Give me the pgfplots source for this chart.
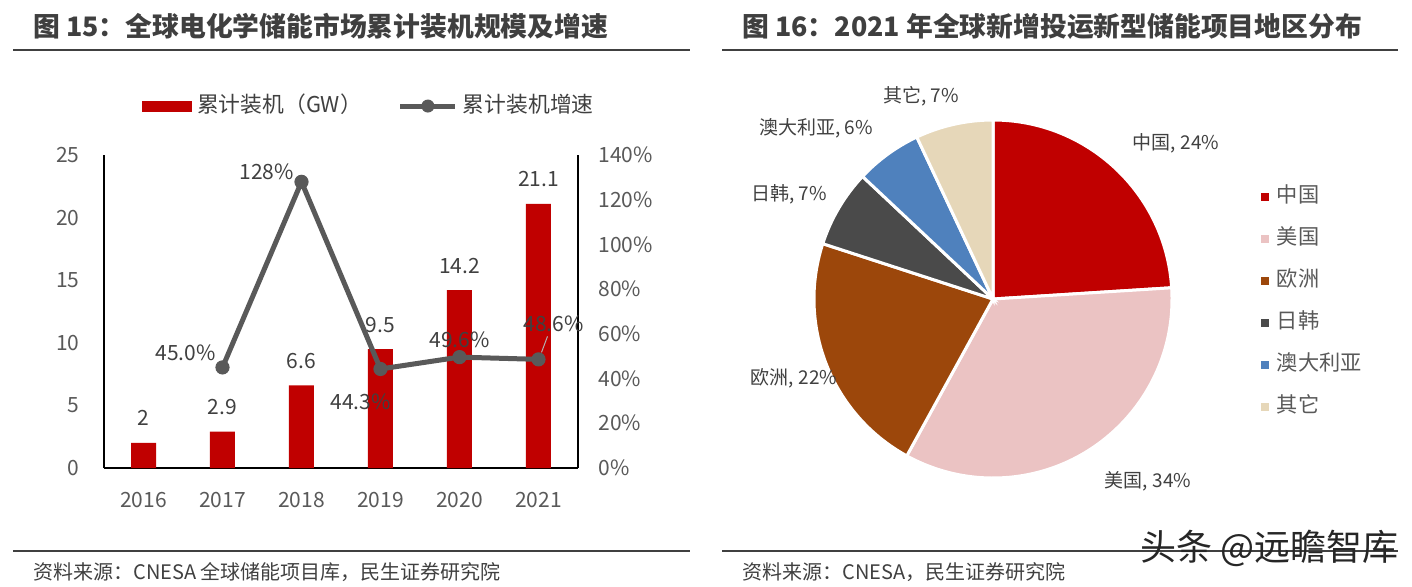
\documentclass[border=0pt]{standalone}
\usepackage{fontspec}
\setmainfont{Noto Sans CJK SC}
\usepackage{pgfplots}
\pgfplotsset{compat=1.18}
\definecolor{cRed}{HTML}{C00000}
\definecolor{cLine}{HTML}{595959}
\definecolor{cTick}{HTML}{595959}
\definecolor{cLab}{HTML}{404040}
\definecolor{cTitle}{HTML}{3F3F3F}
\definecolor{cRule}{HTML}{404040}
\definecolor{cChina}{HTML}{C00000}
\definecolor{cUS}{HTML}{EBC3C3}
\definecolor{cEU}{HTML}{9C470B}
\definecolor{cJK}{HTML}{4A4A4A}
\definecolor{cAU}{HTML}{4F81BD}
\definecolor{cOT}{HTML}{E6D7B9}
\newcommand\fs[1]{\fontsize{#1}{#1}\selectfont}
% pie slice: start angle, percent, colour
\newcommand\slice[3]{\fill[#3, draw=white, line width=1.5pt] (axis cs:0,0) -- ++(#1:89.5pt) arc[start angle=#1, delta angle={-3.6*#2}, radius=89.5pt] -- cycle;}
\begin{document}
\begin{tikzpicture}
\path[use as bounding box] (0pt,0pt) rectangle (706pt,-293pt);
% titles and rules
\node[anchor=base west, inner sep=0pt, font=\bfseries\fs{13.4}, text=cTitle] at (16.5pt,-18pt) {图 15：全球电化学储能市场累计装机规模及增速};
\node[anchor=base west, inner sep=0pt, font=\bfseries\fs{13.4}, text=cTitle] at (371pt,-18pt) {图 16：2021 年全球新增投运新型储能项目地区分布};
\draw[cRule, line width=1.4pt] (6.5pt,-25pt) -- (345pt,-25pt);
\draw[cRule, line width=1.4pt] (361pt,-25pt) -- (699pt,-25pt);
\draw[cRule, line width=1.4pt] (6.5pt,-275.5pt) -- (345pt,-275.5pt);
\draw[cRule, line width=1.4pt] (361pt,-275.5pt) -- (699pt,-275.5pt);
\node[anchor=base west, inner sep=0pt, font=\fs{10}, text=cLab] at (16.5pt,-289.5pt) {资料来源：CNESA 全球储能项目库，民生证券研究院};
\node[anchor=base west, inner sep=0pt, font=\fs{10}, text=cLab] at (371pt,-289.5pt) {资料来源：CNESA，民生证券研究院};
% watermark
\node[anchor=west, inner sep=0pt, font=\fs{18}, text=black!85] at (570pt,-274pt) {头条 @远瞻智库};

% ---------- bar axis ----------
\begin{axis}[
  at={(52pt,-234pt)}, anchor=south west, scale only axis, width=237pt, height=156.5pt,
  xmin=-0.5, xmax=5.5, ymin=0, ymax=25,
  xtick={0,1,2,3,4,5}, xticklabels={2016,2017,2018,2019,2020,2021},
  ytick={0,5,10,15,20,25}, yticklabels={0,5,10,15,20,25},
  axis x line*=bottom, axis y line*=left,
  axis line style={black, line width=0.6pt},
  major tick length=0pt,
  tick label style={font=\fs{10.5}, text=cTick, inner sep=0pt},
  xticklabel style={yshift=-11.75pt},
  yticklabel style={xshift=-12pt},
  /pgf/number format/assume math mode=true,
  clip=false,
  legend style={at={(0.0802,1.1565)}, anchor=west, draw=none, fill=none, inner sep=0pt, outer sep=0pt,
    font=\fs{10.9}, text=cLab, nodes={inner sep=0pt, text height=8pt, text depth=2pt},
    /tikz/every odd column/.append style={column sep=2.5pt},
    /tikz/every even column/.append style={column sep=18pt}},
  legend columns=2,
]
\addplot[ybar, bar width=12.5pt, fill=cRed, draw=none,
  nodes near coords,
  every node near coord/.append style={font=\fs{10.5}, text=cLab, anchor=base, yshift=8.5pt},
  legend image code/.code={\fill[cRed] (0pt,-2.75pt) rectangle (25pt,2.75pt);}]
  coordinates {(0,2) (1,2.9) (2,6.6) (3,9.5) (4,14.2) (5,21.1)};
\addlegendentry{累计装机（GW）}
\addlegendimage{legend image code/.code={\draw[cLine, line width=2.5pt, mark=*, mark size=3pt, mark options={fill=cLine, line width=0.5pt}, mark repeat=2, mark phase=2] plot coordinates {(0pt,0pt) (13.75pt,0pt) (27.5pt,0pt)};}}
\addlegendentry{累计装机增速}
\end{axis}

% ---------- growth axis ----------
\begin{axis}[
  at={(52pt,-234pt)}, anchor=south west, scale only axis, width=237pt, height=156.5pt,
  xmin=-0.5, xmax=5.5, ymin=0, ymax=140,
  axis x line=none, axis y line*=right,
  ytick={0,20,40,60,80,100,120,140},
  yticklabels={0\%,20\%,40\%,60\%,80\%,100\%,120\%,140\%},
  axis line style={black, line width=0.6pt},
  major tick length=0pt,
  tick label style={font=\fs{10.5}, text=cTick, inner sep=0pt},
  yticklabel style={xshift=10pt},
  clip=false,
]
\addplot[cLine, line width=2.5pt, mark=*, mark size=3.3pt, mark options={solid, fill=cLine, line width=0.5pt}]
  coordinates {(1,45.0) (2,128) (3,44.3) (4,49.6) (5,48.6)};
\draw[black!30, line width=0.5pt] ([xshift=1.5pt,yshift=3.5pt]axis cs:5,48.6) -- ([xshift=4.5pt,yshift=11.5pt]axis cs:5,48.6);
\node[font=\fs{10.5}, text=cLab, inner sep=0pt, xshift=-18.5pt, yshift=7.5pt] at (axis cs:1,45.0) {45.0\%};
\node[font=\fs{10.5}, text=cLab, inner sep=0pt, xshift=-17.5pt, yshift=5pt] at (axis cs:2,128) {128\%};
\node[font=\fs{10.5}, text=cLab, inner sep=0pt, xshift=-10pt, yshift=-16.5pt] at (axis cs:3,44.3) {44.3\%};
\node[font=\fs{10.5}, text=cLab, inner sep=0pt, xshift=0pt, yshift=8.5pt] at (axis cs:4,49.6) {49.6\%};
\node[font=\fs{10.5}, text=cLab, inner sep=0pt, xshift=7.5pt, yshift=18pt] at (axis cs:5,48.6) {48.6\%};
\end{axis}

% ---------- pie axis ----------
\begin{axis}[
  at={(496.5pt,-149.5pt)}, anchor=center, x=89.5pt, y=89.5pt,
  xmin=-1, xmax=1, ymin=-1, ymax=1, hide axis, clip=false,
  legend style={at={(1.2486,0.813)}, anchor=north west, draw=none, fill=none, inner sep=0pt, outer sep=0pt,
    font=\fs{10.6}, text=cTick, row sep=11pt, nodes={inner sep=0pt, text height=8pt, text depth=2pt},
    /tikz/every odd column/.append style={column sep=4pt}},
  legend cell align=left,
]
\slice{90}{24}{cChina}
\slice{3.6}{34}{cUS}
\slice{-118.8}{22}{cEU}
\slice{-198}{7}{cJK}
\slice{-223.2}{6}{cAU}
\slice{-244.8}{7}{cOT}
\addlegendimage{legend image code/.code={\fill[cChina] (0pt,-1.75pt) rectangle (3.5pt,1.75pt);}}
\addlegendentry{中国}
\addlegendimage{legend image code/.code={\fill[cUS] (0pt,-1.75pt) rectangle (3.5pt,1.75pt);}}
\addlegendentry{美国}
\addlegendimage{legend image code/.code={\fill[cEU] (0pt,-1.75pt) rectangle (3.5pt,1.75pt);}}
\addlegendentry{欧洲}
\addlegendimage{legend image code/.code={\fill[cJK] (0pt,-1.75pt) rectangle (3.5pt,1.75pt);}}
\addlegendentry{日韩}
\addlegendimage{legend image code/.code={\fill[cAU] (0pt,-1.75pt) rectangle (3.5pt,1.75pt);}}
\addlegendentry{澳大利亚}
\addlegendimage{legend image code/.code={\fill[cOT] (0pt,-1.75pt) rectangle (3.5pt,1.75pt);}}
\addlegendentry{其它}
\end{axis}
% pie labels
\node[font=\fs{9.5}, text=cLab, inner sep=0pt] at (588pt,-71.5pt) {中国, 24\%};
\node[font=\fs{9.5}, text=cLab, inner sep=0pt] at (574pt,-240.5pt) {美国, 34\%};
\node[font=\fs{9.5}, text=cLab, inner sep=0pt] at (397pt,-189pt) {欧洲, 22\%};
\node[font=\fs{9.5}, text=cLab, inner sep=0pt] at (394.5pt,-97pt) {日韩, 7\%};
\node[font=\fs{9.5}, text=cLab, inner sep=0pt] at (408pt,-64pt) {澳大利亚, 6\%};
\node[font=\fs{9.5}, text=cLab, inner sep=0pt] at (460.5pt,-48pt) {其它, 7\%};
\end{tikzpicture}
\end{document}
